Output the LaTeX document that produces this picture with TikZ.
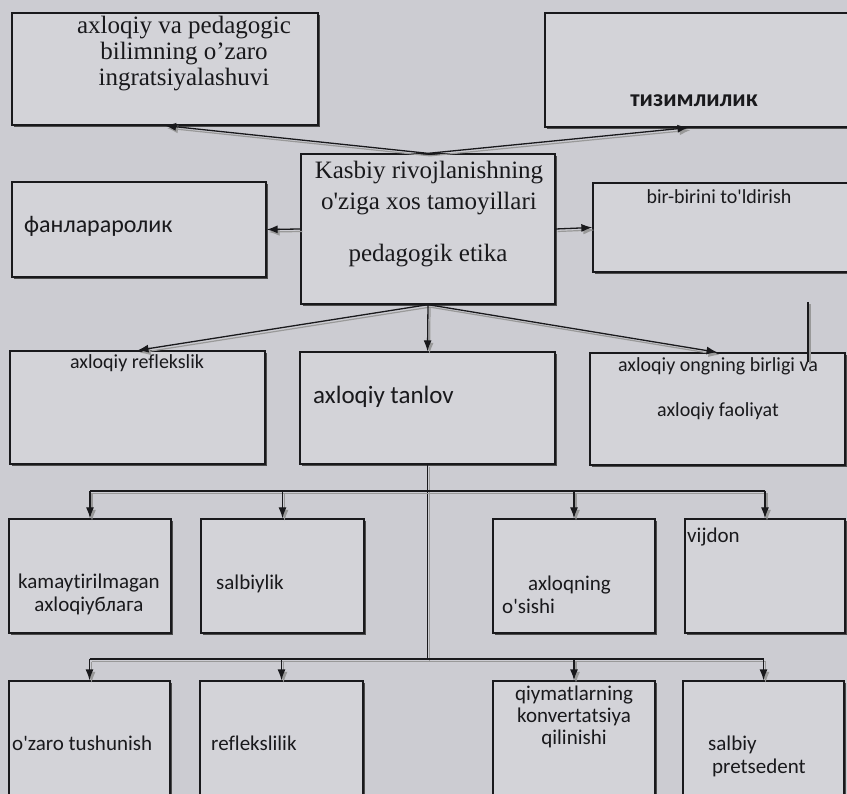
\documentclass[tikz,border=0pt]{standalone}
\usepackage{fontspec}
\setmainfont{Carlito}[Ligatures={TeX,NoCommon}]
\newfontfamily\timesf{Liberation Serif}
\usetikzlibrary{arrows.meta,fit,shadows,calc}

\definecolor{paper}{RGB}{204,204,210}
\definecolor{boxfill}{RGB}{211,211,216}
\definecolor{ink}{RGB}{25,25,28}

\tikzset{
  box/.style={draw=ink,line width=1.3pt,fill=boxfill,inner sep=0pt,
    drop shadow={shadow xshift=2pt,shadow yshift=-2pt,fill=black!70,opacity=1}},
  wire/.style={draw=ink,line width=1.3pt,
    preaction={draw=black!40,line width=1.2pt,transform canvas={shift={(2pt,-2.5pt)}}}},
  link/.style={wire,-{Latex[length=11pt,width=8pt]}},
  txt/.style={inner sep=0pt,text=ink,font=\fontsize{21}{23}\selectfont},
  small/.style={txt,font=\fontsize{20}{22}\selectfont},
  serif/.style={txt,align=center,font=\timesf\fontsize{25}{26}\selectfont}
}

\begin{document}
\begin{tikzpicture}[x=1pt,y=-1pt]

        \fill[paper] (0,0) rectangle (847,794);
        \useasboundingbox (0,0) rectangle (847,794);
        \clip (0,0) rectangle (847,794);

        % boxes
        \node[box,fit={(12,13)(318,125)}] (ped) {};
        \node[box,fit={(545,13)(852,127)}] (tiz) {};
        \node[box,fit={(301,154)(555,304)}] (ctr) {};
        \node[box,fit={(12,182)(266,277)}] (fan) {};
        \node[box,fit={(593,183)(852,272)}] (bir) {};

        \node[box,fit={(10,351)(265,464)}] (refl) {};
        \node[box,fit={(300,352)(555,464)}] (tanlov) {};
        \node[box,fit={(590,353)(845,465)}] (ongn) {};

        \node[box,fit={(9,519)(171,633)}] (kam) {};
        \node[box,fit={(201,519)(364,633)}] (salb) {};
        \node[box,fit={(493,519)(655,633)}] (osish) {};
        \node[box,fit={(685,519)(845,633)}] (vij) {};

        \node[box,fit={(9,681)(170,805)}] (ozaro) {};
        \node[box,fit={(200,681)(363,805)}] (reflik) {};
        \node[box,fit={(493,681)(655,805)}] (qiym) {};
        \node[box,fit={(683,681)(844,805)}] (pret) {};

        % texts
        \node[serif] (pedT) at (184,54) {axloqiy va pedagogic\\bilimning o’zaro\\ingratsiyalashuvi};
        \node[serif,font=\timesf\fontsize{25}{31}\selectfont] (ctrT) at (429,188) {Kasbiy rivojlanishning\\o\textquotesingle ziga xos tamoyillari};
        \node[serif] (ctrE) at (428,256) {pedagogik etika};
        \node[txt,font=\bfseries\fontsize{24}{26}\selectfont] (tizT) at (694,101) {тизимлилик};
        \node[txt,font=\fontsize{24}{26}\selectfont,anchor=west] (fanT) at (24,226) {фанлараролик};
        \node[small] (birT) at (719,197) {bir-birini to\textquotesingle ldirish};

        \node[small] (reflT) at (137,363) {axloqiy reflekslik};
        \node[txt,font=\fontsize{25}{28}\selectfont,anchor=west] (tanlovT) at (313,397) {axloqiy tanlov};
        \node[small] (ongnT) at (718,366) {axloqiy ongning birligi va};
        \node[small] (ongnF) at (718,411) {axloqiy faoliyat};

        \node[txt,align=center] (kamT) at (89,594) {kamaytirilmagan\\axloqiyблага};
        \node[txt,anchor=west] (salbT) at (216,584) {salbiylik};
        \node[txt,anchor=west] (osishA) at (528,585) {axloqning};
        \node[txt,anchor=west] (osishB) at (502,606) {o\textquotesingle sishi};
        \node[txt,anchor=west] (vijT) at (687,537) {vijdon};

        \node[txt,anchor=west] (ozaroT) at (12,743) {o\textquotesingle zaro tushunish};
        \node[txt,anchor=west] (reflikT) at (211,743) {reflekslilik};
        \node[txt,align=center,font=\fontsize{21}{22}\selectfont] (qiymT) at (574,717) {qiymatlarning\\konvertatsiya\\qilinishi};
        \node[txt,anchor=west] (pretA) at (708,745) {salbiy};
        \node[txt,anchor=west] (pretB) at (712,768) {pretsedent};

        % connectors
        \draw[link] (ctr.north) -- (ped.south);
        \draw[link] (ctr.north) -- ($(tiz.south)+(-10,0)$);
        \draw[link] (ctr.west) -- (fan.east);
        \draw[link] (ctr.east) -- (bir.west);
        \draw[link] (ctr.south) -- (refl.north);
        \draw[link] (ctr.south) -- (tanlov.north);
        \draw[link] (ctr.south) -- (ongn.north);
        \draw[wire] (808,302) -- (808,362);

        \coordinate (b1) at (tanlov.south |- 0,491);
        \coordinate (b2) at (tanlov.south |- 0,659);
        \draw[wire] (tanlov.south) -- (b2);
        \draw[wire] (kam.north |- b1) -- (vij.north |- b1);
        \draw[wire] (ozaro.north |- b2) -- (pret.north |- b2);
        \foreach \n in {kam,salb,osish,vij}
          \draw[link] (\n.north |- b1) -- (\n.north);
        \foreach \n in {ozaro,reflik,qiym,pret}
          \draw[link] (\n.north |- b2) -- (\n.north);

\end{tikzpicture}
\end{document}
